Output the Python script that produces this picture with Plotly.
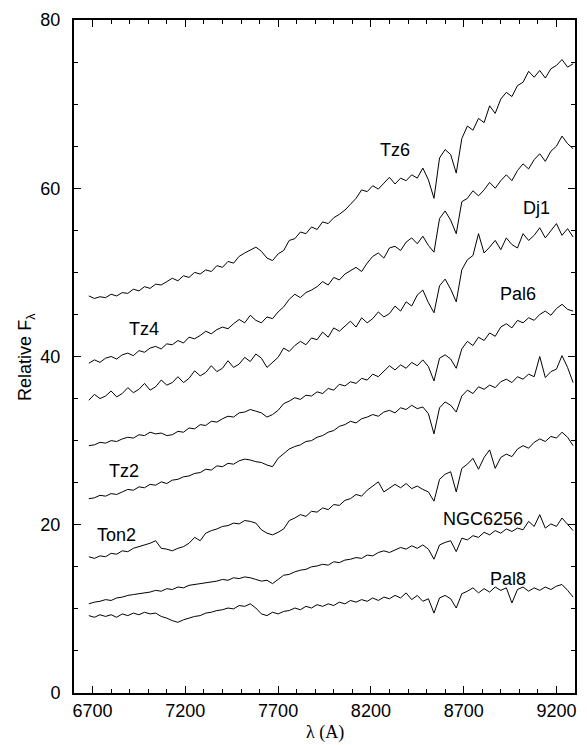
import plotly.graph_objects as go

wavelength = [6680, 6710, 6740, 6770, 6800, 6830, 6860, 6890, 6920, 6950,
              6980, 7010, 7040, 7070, 7100, 7130, 7160, 7190, 7220, 7250,
              7280, 7310, 7340, 7370, 7400, 7430, 7460, 7490, 7520, 7550,
              7580, 7610, 7640, 7670, 7700, 7730, 7760, 7790, 7820, 7850,
              7880, 7910, 7940, 7970, 8000, 8030, 8060, 8090, 8120, 8150,
              8180, 8210, 8240, 8270, 8300, 8330, 8360, 8390, 8420, 8450,
              8480, 8510, 8540, 8570, 8600, 8630, 8660, 8690, 8720, 8750,
              8780, 8810, 8840, 8870, 8900, 8930, 8960, 8990, 9020, 9050,
              9080, 9110, 9140, 9170, 9200, 9230, 9260, 9290]

tz6 = [47.2, 46.9, 47.1, 47.0, 47.4, 47.2, 47.6, 47.5, 48.0, 47.8,
       48.3, 48.1, 48.6, 48.5, 48.9, 49.3, 49.0, 49.6, 49.4, 50.0,
       49.8, 50.3, 50.1, 50.8, 50.6, 51.3, 51.1, 51.9, 52.3, 52.7,
       53.0, 52.5, 51.7, 51.4, 52.2, 52.6, 53.8, 54.0, 54.8, 54.6,
       55.4, 55.1, 56.0, 55.8, 56.5, 56.9, 57.4, 58.1, 58.8, 59.8,
       59.6, 60.3, 59.9, 60.6, 61.3, 60.5, 61.2, 60.9, 61.6, 61.2,
       62.4, 61.0, 58.8, 63.6, 64.6, 64.0, 61.8, 65.9, 67.4, 66.9,
       68.3, 67.8, 69.8, 68.9, 70.6, 71.4, 70.9, 72.2, 72.6, 73.9,
       73.2, 74.0, 73.1, 74.2, 74.6, 75.3, 74.4, 74.8]

tz4 = [39.2, 39.6, 39.3, 39.8, 40.0, 39.7, 40.2, 40.4, 40.1, 40.7,
       40.5, 41.0, 41.2, 40.9, 41.5, 41.4, 41.9, 41.6, 42.3, 42.1,
       42.5, 43.0, 42.7, 43.2, 43.5, 43.3, 43.9, 44.4, 44.0, 44.9,
       44.3, 44.0, 44.7, 44.5, 45.3, 45.9, 46.8, 47.4, 47.0, 47.6,
       47.9, 48.3, 48.9, 48.5, 49.4, 49.1, 49.8, 50.2, 50.6, 50.1,
       51.1, 51.9, 52.3, 51.7, 52.9, 53.1, 52.6, 53.6, 54.1, 53.4,
       54.3, 53.2, 52.4, 56.4, 57.3, 56.2, 54.6, 58.4, 58.8, 59.7,
       59.1, 59.8, 60.7, 60.0, 60.9, 61.6, 60.9, 62.1, 62.9, 62.3,
       63.4, 64.1, 63.2, 64.4, 65.0, 66.2, 65.3, 64.7]

dj1 = [34.8, 35.5, 35.0, 35.3, 35.9, 35.2, 35.6, 36.3, 35.7, 36.1,
       36.8, 36.0, 36.4, 37.2, 36.6, 36.9, 37.6, 36.9, 37.4, 38.3,
       37.7, 38.1, 38.9, 38.2, 38.6, 39.5, 38.7, 39.1, 39.9, 39.4,
       40.3, 39.8, 38.7, 39.3, 39.9, 41.0, 40.6, 41.3, 41.8, 41.4,
       42.2, 42.0, 42.9, 42.3, 43.4, 43.0, 43.6, 44.2, 43.5, 44.6,
       44.0, 44.5, 45.3, 44.7, 45.1, 46.0, 45.4, 46.5, 46.0, 47.3,
       47.9, 46.4, 45.2, 48.4, 49.2, 48.0, 46.5, 50.3, 51.5, 52.0,
       54.6, 52.3, 53.0, 53.8, 52.7, 54.1, 53.3, 52.9, 54.6, 53.8,
       54.4, 55.3, 54.1, 54.9, 55.8, 54.4, 55.2, 54.2]

pal6 = [29.4, 29.5, 29.8, 29.7, 30.0, 29.9, 30.2, 30.4, 30.3, 30.7,
        30.6, 31.0, 30.8, 30.9, 30.6, 30.7, 31.1, 31.0, 31.5, 31.4,
        31.9, 31.8, 32.3, 32.2, 32.6, 32.9, 32.8, 33.3, 33.4, 33.7,
        33.5, 33.3, 32.8, 33.1, 33.6, 34.4, 34.7, 35.1, 34.9, 35.4,
        35.3, 35.8, 35.6, 36.2, 36.0, 36.7, 36.5, 37.0, 36.8, 37.4,
        37.2, 37.9, 37.6, 38.3, 38.9, 38.4, 39.0, 38.6, 39.3, 38.9,
        39.6, 38.8, 37.1, 39.8, 40.2, 39.7, 38.6, 40.9, 41.8, 41.3,
        42.3, 41.9, 42.8, 42.4, 43.5, 43.9, 43.4, 44.3, 44.0, 44.6,
        44.3, 45.0, 45.4, 44.9, 45.7, 46.2, 45.6, 45.4]

tz2 = [23.1, 23.2, 23.5, 23.4, 23.7, 23.6, 23.9, 24.2, 24.1, 24.5,
       24.4, 24.8, 24.7, 25.1, 24.9, 25.3, 25.4, 25.7, 25.8, 26.1,
       26.2, 26.6, 26.5, 27.0, 26.9, 27.3, 27.2, 27.6, 27.8, 27.7,
       27.5, 27.4, 27.1, 26.9, 27.9, 28.4, 29.0, 29.3, 29.5, 29.9,
       30.0, 30.4, 30.6, 31.0, 31.2, 31.7, 31.9, 32.3, 32.1, 32.6,
       32.8, 33.1, 32.9, 33.4, 33.6, 33.3, 33.9, 33.7, 34.2, 33.8,
       34.0, 33.2, 30.8, 33.9, 34.6, 34.2, 33.4, 35.3, 36.0, 35.6,
       36.4, 36.1, 36.6, 36.3, 37.0, 37.3, 36.9, 37.6, 37.3, 37.9,
       37.6, 40.0, 37.5, 38.2, 38.5, 40.1, 38.7, 36.9]

ton2 = [16.2, 16.0, 16.3, 16.2, 16.6, 16.5, 16.9, 16.8, 17.2, 17.4,
        17.6, 17.8, 18.1, 17.2, 17.1, 16.9, 17.2, 17.4, 17.8, 18.5,
        18.1, 19.0, 19.3, 19.5, 19.8, 19.9, 20.2, 20.1, 20.5, 20.4,
        20.2, 19.4, 19.0, 18.8, 19.1, 19.5, 20.5, 20.8, 21.2, 21.0,
        21.6, 21.5, 22.0, 21.8, 22.4, 22.3, 22.9, 23.1, 23.6, 23.4,
        24.1, 24.6, 25.1, 23.9, 24.3, 24.8, 24.4, 24.9, 24.3, 24.6,
        24.2, 23.9, 22.8, 25.4, 26.0, 26.3, 23.9, 26.7, 27.2, 27.9,
        26.6, 28.0, 28.9, 26.7, 28.0, 28.4, 28.1, 29.0, 29.4, 29.1,
        29.8, 30.2, 29.9, 30.5, 30.3, 31.0, 30.4, 29.4]

ngc6256 = [10.6, 10.8, 10.9, 11.1, 11.0, 11.3, 11.4, 11.6, 11.7, 11.8,
           11.9, 12.0, 12.2, 12.1, 12.4, 12.3, 12.6, 12.5, 12.8, 12.9,
           13.0, 13.1, 13.2, 13.3, 13.5, 13.4, 13.7, 13.6, 13.8, 13.7,
           13.5, 13.3, 13.4, 13.0, 13.5, 14.0, 14.1, 14.4, 14.6, 14.7,
           15.0, 15.1, 15.3, 15.2, 15.6, 15.5, 15.8, 15.9, 16.1, 16.0,
           16.4, 16.3, 16.7, 16.9, 16.7, 17.0, 17.3, 17.1, 17.5, 17.2,
           17.6, 17.1, 15.9, 17.6, 17.9, 18.1, 16.8, 18.4, 18.2, 18.7,
           18.5, 19.1, 18.8, 19.3, 19.0, 19.5, 19.2, 19.6, 19.4, 20.4,
           19.8, 21.2, 19.6, 20.1, 19.8, 20.8, 20.0, 19.3]

pal8 = [9.2, 9.0, 9.3, 9.1, 9.3, 9.0, 9.4, 9.2, 9.5, 9.3,
        9.6, 9.4, 9.5, 9.1, 8.9, 8.6, 8.4, 8.7, 8.9, 9.1,
        9.2, 9.5, 9.6, 9.8, 9.9, 10.1, 10.0, 10.4, 10.3, 10.6,
        10.1, 9.4, 9.2, 9.6, 9.4, 9.7, 9.8, 10.1, 9.9, 10.3,
        10.1, 10.5, 10.3, 10.6, 10.4, 10.8, 10.6, 11.0, 10.8, 11.1,
        10.9, 11.3, 11.0, 11.4, 11.2, 11.6, 11.3, 11.9, 11.1, 11.6,
        10.9, 11.2, 9.5, 11.3, 11.6, 11.2, 10.1, 11.8, 12.1, 12.5,
        11.9, 12.4, 12.0, 12.6, 12.2, 12.5, 10.7, 12.3, 12.6, 12.1,
        12.5, 12.2, 12.6, 12.3, 12.7, 12.9, 12.2, 11.4]

names = ["Tz6", "Tz4", "Dj1", "Pal6", "Tz2", "Ton2", "NGC6256", "Pal8"]
series = [tz6, tz4, dj1, pal6, tz2, ton2, ngc6256, pal8]
label_x = [8329, 6976, 9091, 8994, 6868, 6831, 8806, 8940]
label_y = [64.5, 43.3, 57.6, 47.4, 26.4, 18.8, 20.7, 13.6]

fig = go.Figure()
for name, vals in zip(names, series):
    fig.add_trace(go.Scatter(x=wavelength, y=vals, mode="lines", name=name,
                             line=dict(color="black", width=1), showlegend=False))

for name, lx, ly in zip(names, label_x, label_y):
    fig.add_annotation(x=lx, y=ly, text=name, showarrow=False,
                       font=dict(family="Liberation Sans, Arial, sans-serif", size=18, color="black"))

fig.add_annotation(xref="paper", yref="paper", x=-0.095, y=0.5, text="Relative F<sub>λ</sub>",
                   textangle=-90, showarrow=False, xanchor="center", yanchor="middle",
                   font=dict(family="Liberation Sans, Arial, sans-serif", size=18, color="black"))
fig.add_annotation(xref="paper", yref="paper", x=0.5, y=-0.058, text="λ (A)",
                   showarrow=False, xanchor="center", yanchor="middle",
                   font=dict(family="Liberation Serif, Times New Roman, serif", size=18, color="black"))

axis_common = dict(showline=True, linecolor="black", linewidth=2, mirror="allticks",
                   ticks="inside", ticklen=7, tickwidth=1, tickcolor="black",
                   showgrid=False, zeroline=False,
                   tickfont=dict(family="Liberation Sans, Arial, sans-serif", size=18, color="black"))

fig.update_xaxes(range=[6600, 9300], tick0=6700, dtick=500,
                 minor=dict(dtick=100, tick0=6600, ticks="inside", ticklen=4, tickcolor="black", tickwidth=1, showgrid=False),
                 ticklabelstandoff=0, **axis_common)
fig.update_yaxes(range=[0, 80], tick0=0, dtick=20,
                 minor=dict(dtick=5, ticks="inside", ticklen=4, tickcolor="black", tickwidth=1, showgrid=False),
                 ticklabelstandoff=8, **axis_common)

fig.update_layout(width=587, height=745, margin=dict(l=74, r=10, t=13, b=52),
                  paper_bgcolor="white", plot_bgcolor="white")

fig.write_html("out.html", config={"displayModeBar": False},
               post_script="document.body.style.margin='0';document.body.style.overflow='hidden';")
